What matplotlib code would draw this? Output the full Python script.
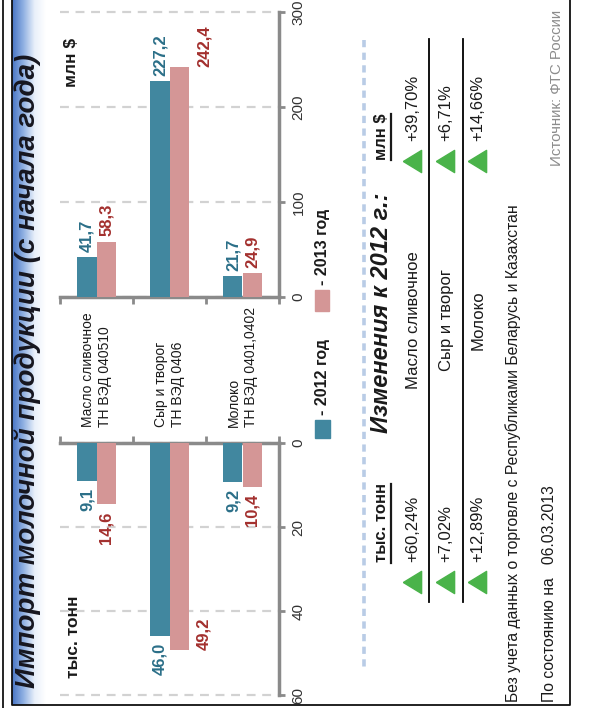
import numpy as np
import matplotlib
matplotlib.use('Agg')
import matplotlib.pyplot as plt
import matplotlib.transforms as mtransforms
from matplotlib.colors import LinearSegmentedColormap
from matplotlib.patches import Rectangle

plt.rcParams['font.family'] = ['Liberation Sans', 'DejaVu Sans']

# ---------------- data ----------------
categories = ['Масло сливочное\nТН ВЭД 040510',
              'Сыр и творог\nТН ВЭД 0406',
              'Молоко\nТН ВЭД 0401,0402']
short_names = ['Масло сливочное', 'Сыр и творог', 'Молоко']
series_names = ['- 2012 год', '- 2013 год']
usd_2012 = [41.7, 227.2, 21.7]
usd_2013 = [58.3, 242.4, 24.9]
tons_2012 = [9.1, 46.0, 9.2]
tons_2013 = [14.6, 49.2, 10.4]
usd_ticks = [0, 100, 200, 300]
tons_ticks = [0, 20, 40, 60]
chg_tons = [60.24, 7.02, 12.89]
chg_usd = [39.70, 6.71, 14.66]

title = 'Импорт молочной продукции (с начала года)'
unit_usd = 'млн $'
unit_tons = 'тыс. тонн'
changes_title = 'Изменения к 2012 г.:'
footnote = 'Без учета данных о торговле с Республиками Беларусь и Казахстан'
date_note = 'По состоянию на   06.03.2013'
source = 'Источник: ФТС России'

# ---------------- style ----------------
W, H = 589, 708
TEAL = '#41879f'
PINK = '#d49696'
TEAL_TXT = '#2b6f88'
RED_TXT = '#a3302e'
GRAY = '#8a8a8a'
GREEN = '#4ab34a'
TXT = '#1a1a1a'


def fmt(v, d=1):
    return f'{v:.{d}f}'.replace('.', ',')


fig = plt.figure(figsize=(W / 100, H / 100), dpi=100)
ov = fig.add_axes([0, 0, 1, 1], zorder=0)
ov.set_xlim(0, W)
ov.set_ylim(H, 0)
ov.axis('off')

# frame + title band
grad = np.linspace(0, 1, 256).reshape(1, -1)
cmap = LinearSegmentedColormap.from_list('band', ['#4774c4', '#8fb0e2', '#e9f0fa', '#ffffff'])
ov.imshow(grad, extent=[12, 46, 705, 0], aspect='auto', cmap=cmap, zorder=0)
ov.plot([3, 3], [0, H], color='black', lw=1.2)
ov.plot([12, 12, 570, 570], [0, 705, 705, 0], color='#101010', lw=1.3)

ov.text(28, 688, title, rotation=90, ha='center', va='bottom', fontsize=20,
        fontweight='bold', fontstyle='italic', color='#16161f')

# ---------------- chart axes ----------------
L, R = 60, 279
ax_u = fig.add_axes([L / W, 1 - 297 / H, (R - L) / W, (297 - 12) / H], zorder=1)
ax_t = fig.add_axes([L / W, 1 - 695 / H, (R - L) / W, (695 - 443) / H], zorder=1)

# left-pointing triangle marker (taller than wide)
TRI_LEFT = [(-0.82, 0), (0.82, 1), (0.82, -1), (-0.82, 0)]

x = np.arange(len(categories))
bw = 0.263
for ax, v12, v13, ticks, inverted in [(ax_u, usd_2012, usd_2013, usd_ticks, False),
                                      (ax_t, tons_2012, tons_2013, tons_ticks, True)]:
    ax.set_facecolor('none')
    ax.bar(x - bw / 2, v12, bw, color=TEAL, zorder=3)
    ax.bar(x + bw / 2, v13, bw, color=PINK, zorder=3)
    ax.set_xlim(-0.5, len(categories) - 0.5)
    if inverted:
        ax.set_ylim(ticks[-1], ticks[0])
        ax.xaxis.tick_top()
        shown = ['top', 'right']
    else:
        ax.set_ylim(ticks[0], ticks[-1])
        shown = ['bottom', 'right']
    for s in ['top', 'bottom', 'left', 'right']:
        ax.spines[s].set_visible(s in shown)
        ax.spines[s].set_color(GRAY)
        ax.spines[s].set_linewidth(2.5)
    ax.set_xticks(np.arange(len(categories) + 1) - 0.5)
    ax.set_xticklabels([])
    ax.tick_params(axis='x', direction='out', length=5, width=2, color=GRAY)
    ax.yaxis.tick_right()
    ax.set_yticks(ticks)
    ax.set_yticklabels([str(t) for t in ticks])
    ax.tick_params(axis='y', direction='out', length=4, width=2, color=GRAY,
                   labelcolor='#333333', labelsize=11, labelrotation=90, pad=5)
    for lab in ax.get_yticklabels():
        lab.set_verticalalignment('center')
    ax.yaxis.grid(True, linestyle=(0, (4, 3)), color='#d2d2d2', lw=1.6)
    for gl in ax.get_ygridlines():
        gl.set_clip_on(False)
    ax.set_axisbelow(True)

    # value labels
    for j, (vals, col) in enumerate([(v12, TEAL_TXT), (v13, RED_TXT)]):
        for i, v in enumerate(vals):
            xpos = i + (j - 0.5) * bw
            if (i, j) == (1, 1):
                dx, dy, va = 18, 0, 'bottom'
            else:
                dx, dy = 0, (-5 if inverted else 4)
                va = 'top' if inverted else 'bottom'
            ax.annotate(fmt(v), xy=(xpos, v), xytext=(dx, dy), textcoords='offset points',
                        rotation=90, ha='center', va=va, fontsize=12,
                        fontweight='bold', color=col, zorder=4)

# unit labels
ov.text(71, 38, unit_usd, rotation=90, ha='center', va='top', fontsize=12.5,
        fontweight='bold', color=TXT)
ov.text(73, 678, unit_tons, rotation=90, ha='center', va='bottom', fontsize=12.5,
        fontweight='bold', color=TXT)

# category labels (x from chart data, y in pixels)
btr = mtransforms.blended_transform_factory(ax_u.transData, ov.transData)
for i, c in enumerate(categories):
    ov.text(i, 427, c, transform=btr, rotation=90, ha='center', va='bottom',
            fontsize=10, color=TXT, multialignment='left', linespacing=1.25)

# legend
ov.add_patch(Rectangle((315, 420), 15, 18, color=TEAL))
ov.text(323, 415, series_names[0], rotation=90, ha='center', va='bottom',
        fontsize=11.5, fontweight='bold', color=TXT)
ov.add_patch(Rectangle((315, 290), 14, 21, color=PINK))
ov.text(323, 285, series_names[1], rotation=90, ha='center', va='bottom',
        fontsize=11.5, fontweight='bold', color=TXT)

# dashed separator
ov.plot([364, 364], [40, 667], color='#b9cce6', lw=2.6, linestyle=(0, (2, 1.5)))

# changes table
ov.text(382, 313, changes_title, rotation=90, ha='center', va='center', fontsize=17,
        fontweight='bold', fontstyle='italic', color=TXT)
ut = ov.text(382, 523, unit_tons, rotation=90, ha='center', va='center', fontsize=12,
             fontweight='bold', color=TXT)
uu = ov.text(382, 137, unit_usd, rotation=90, ha='center', va='center', fontsize=12,
             fontweight='bold', color=TXT)

row_x = [413, 446, 478]
for i in range(3):
    rx = row_x[i]
    ov.text(rx, 320, short_names[i], rotation=90, ha='center', va='center',
            fontsize=12, color=TXT)
    ov.text(rx, 562, '+' + fmt(chg_tons[i], 2) + '%', rotation=90, ha='center',
            va='bottom', fontsize=12, color=TXT)
    ov.text(rx, 141, '+' + fmt(chg_usd[i], 2) + '%', rotation=90, ha='center',
            va='bottom', fontsize=12, color=TXT)
    ov.plot([rx - 1], [582], marker=TRI_LEFT, ms=16, color=GREEN, mec=GREEN, ls='none')
    ov.plot([rx - 1], [161], marker=TRI_LEFT, ms=16, color=GREEN, mec=GREEN, ls='none')

for sx in [429, 463]:
    ov.plot([sx, sx], [39, 602], color='black', lw=1.3)

ov.text(513, 702, footnote, rotation=90, ha='center', va='bottom', fontsize=11.3,
        color=TXT)
ov.text(549, 702, date_note, rotation=90, ha='center', va='bottom', fontsize=11.3,
        color=TXT)
ov.text(557, 166, source, rotation=90, ha='center', va='bottom', fontsize=10.8,
        color='#8c8c8c')

# underline unit labels in the table
fig.canvas.draw()
inv = ov.transData.inverted()
for t in [ut, uu]:
    bb = t.get_window_extent()
    (x0, y0), (x1, y1) = inv.transform([[bb.x0, bb.y0], [bb.x1, bb.y1]])
    ov.plot([x1 + 1, x1 + 1], [y0, y1], color=TXT, lw=1.6)

fig.savefig('out.png', dpi=100)
